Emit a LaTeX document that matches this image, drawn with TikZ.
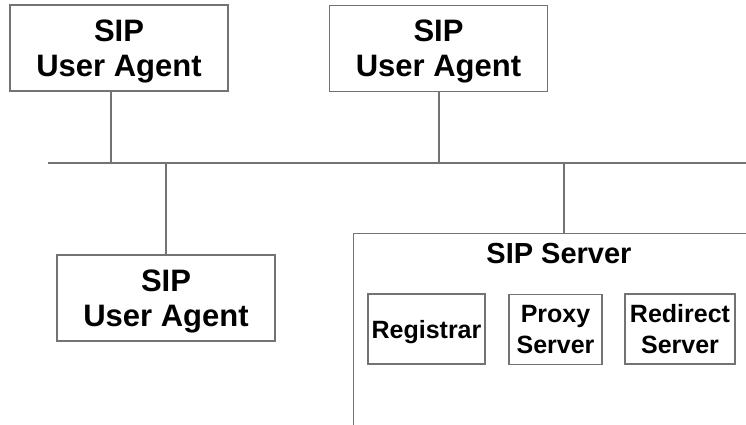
\documentclass[tikz,border=0pt]{standalone}
\usepackage{fontspec}
\setmainfont{Liberation Sans}
\begin{document}
\begin{tikzpicture}[x=1pt,y=-1pt,
    line/.style={draw=black!55, line width=1.3pt},
    ua/.style={line, rectangle, minimum width=218pt, minimum height=86pt,
      align=center, inner sep=0pt, text depth=0pt,
      font=\fontsize{31}{35}\selectfont\bfseries},
    part/.style={line, rectangle, minimum height=70pt, align=center,
      inner sep=0pt, text depth=0pt, font=\fontsize{25}{31}\selectfont\bfseries}]
  \useasboundingbox (0,0) rectangle (746,424);
  \clip (0,0) rectangle (746,424);
  \draw
    (119,48) node[ua] (ua1) {SIP\\User Agent}
    (438.5,48.5) node[ua] (ua2) {SIP\\User Agent}
    (166,298) node[ua] (ua3) {SIP\\User Agent};
  % server frame runs off the page
  \node[line, rectangle, minimum width=420pt, minimum height=220pt,
    anchor=north west] (srv) at (353,233) {};
  \node[font=\fontsize{29}{34}\selectfont\bfseries] (srvname) at (559,254) {SIP Server};
  \draw
    (426.5,329) node[part, minimum width=117pt] (reg) {Registrar}
    (555.5,329.5) node[part, minimum width=93pt] (proxy) {Proxy\\Server}
    (680,329) node[part, minimum width=110pt] (redir) {Redirect\\Server};
  % the bus
  \coordinate (busL) at (48,163);
  \coordinate (busR) at (746,163);
  \coordinate (t1) at (111,163);
  \coordinate (t2) at (439,163);
  \coordinate (t3) at (166,163);
  \coordinate (t4) at (564,163);
  \begin{scope}[line]
    \draw (busL) to (busR);
    \draw (t1) to (t1 |- ua1.south);
    \draw (t2) to (t2 |- ua2.south);
    \draw (t3) to (ua3.north);
    \draw (t4) to (t4 |- srv.north);
  \end{scope}
\end{tikzpicture}
\end{document}
